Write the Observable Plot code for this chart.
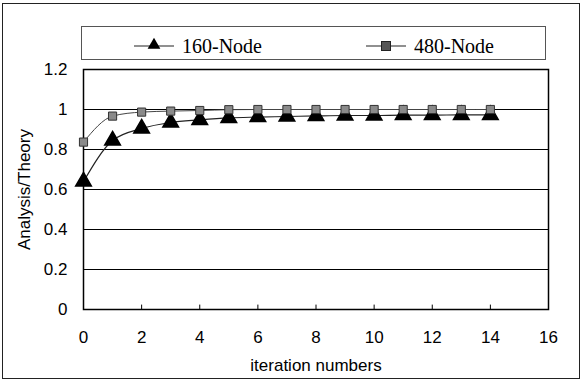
<!DOCTYPE html>
<html><head><meta charset="utf-8">
<script src="https://cdn.jsdelivr.net/npm/d3@7"></script>
<script src="https://cdn.jsdelivr.net/npm/@observablehq/plot@0.6"></script>
<style>
body{margin:0;background:#fff;}
#wrap{position:relative;width:588px;height:382px;}
#frame{position:absolute;left:2px;top:3px;width:578px;height:376px;border:1.5px solid #222;box-sizing:border-box;pointer-events:none;}
#legend{position:absolute;left:81px;top:26px;width:465px;height:34px;border:1px solid #555;box-sizing:border-box;background:#fff;}
#legend svg{position:absolute;left:0;top:0;}
</style></head>
<body>
<div id="wrap"><div id="chart"></div><div id="frame"></div><div id="legend"></div></div>
<script>
const iterations = [0,1,2,3,4,5,6,7,8,9,10,11,12,13,14];
const node160 = [0.64,0.845,0.905,0.935,0.948,0.958,0.962,0.965,0.968,0.97,0.97,0.972,0.972,0.973,0.973];
const node480 = [0.837,0.967,0.987,0.992,0.995,0.999,1,1,1,1,1,1,1,1,1];
const seriesNames = ["160-Node","480-Node"];
const xTicks = [0,2,4,6,8,10,12,14,16];
const yTicks = [0,0.2,0.4,0.6,0.8,1,1.2];

const d160 = iterations.map((x,i)=>({x, y:node160[i]}));
const d480 = iterations.map((x,i)=>({x, y:node480[i]}));

const font = "'Liberation Sans', Arial, sans-serif";
const chart = Plot.plot({
  width:588, height:382,
  marginLeft:83, marginRight:40, marginTop:69, marginBottom:73,
  style:{fontFamily:font, fontSize:"17px", color:"#000", background:"transparent"},
  x:{domain:[0,16]},
  y:{domain:[0,1.2]},
  marks:[
    Plot.ruleY(yTicks.filter(d=>d>0), {stroke:"#000", strokeWidth:1}),
    Plot.ruleX(xTicks.filter(d=>d>0 && d<16), {y1:0, y2:0.022, stroke:"#000", strokeWidth:1}),
    Plot.frame({stroke:"#000", strokeWidth:1.5}),
    Plot.axisX({ticks:xTicks, tickSize:0, tickPadding:21, tickFormat:d=>String(d), fontSize:17, label:null}),
    Plot.axisY({ticks:yTicks, tickSize:0, tickPadding:16, tickFormat:d=>String(d), fontSize:17, label:null}),
    Plot.axisX({ticks:[], label:"iteration numbers", labelAnchor:"center", labelArrow:"none", labelOffset:61, fontSize:17}),
    Plot.axisY({ticks:[], label:"Analysis/Theory", labelAnchor:"center", labelArrow:"none", labelOffset:66, fontSize:17}),
    Plot.line(d480, {x:"x", y:"y", stroke:"#444", strokeWidth:1, curve:"monotone-x"}),
    Plot.line(d160, {x:"x", y:"y", stroke:"#222", strokeWidth:1.2, curve:"monotone-x"}),
    Plot.dot(d160, {x:"x", y:"y", symbol:"triangle", r:5.8, fill:"#000", stroke:"#000"}),
    Plot.dot(d480, {x:"x", y:"y", symbol:"square", r:4.6, fill:"#8a8a8a", stroke:"#333", strokeWidth:1})
  ]
});
document.getElementById("chart").appendChild(chart);

// legend
const leg = d3.select("#legend").append("svg").attr("width",465).attr("height",34);
const items = [{x0:52, name:seriesNames[0], sym:"tri", tx:100},{x0:284, name:seriesNames[1], sym:"sq", tx:332}];
items.forEach(it=>{
  leg.append("line").attr("x1",it.x0).attr("x2",it.x0+40).attr("y1",19).attr("y2",19).attr("stroke","#222").attr("stroke-width",1.2);
  const cx = it.x0+20;
  if(it.sym==="tri"){
    leg.append("path").attr("d",d3.symbol(d3.symbolTriangle, 70)()).attr("transform",`translate(${cx},18)`).attr("fill","#000");
  } else {
    leg.append("rect").attr("x",cx-4.5).attr("y",14.5).attr("width",9).attr("height",9).attr("fill","#555").attr("stroke","#222");
  }
  leg.append("text").attr("x",it.tx).attr("y",26).text(it.name)
    .attr("font-family","'Liberation Serif','Times New Roman',serif").attr("font-size",20).attr("fill","#000");
});
</script>
</body></html>
